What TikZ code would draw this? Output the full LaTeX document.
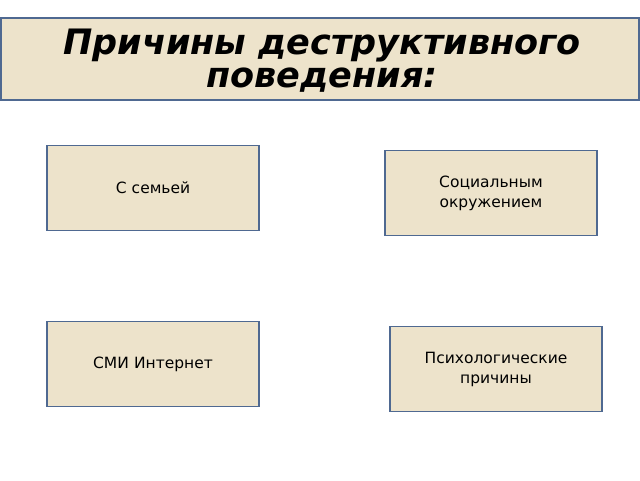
\documentclass[tikz,border=0pt]{standalone}
\usepackage{fontspec}
\setmainfont{DejaVu Sans}
\usepackage{tikz}
\usetikzlibrary{positioning}

\definecolor{parchment}{RGB}{237,227,203}
\definecolor{frameblue}{RGB}{79,105,145}

\tikzset{
    causebox/.style={draw=frameblue, line width=1.6pt, fill=parchment,
        minimum width=212pt, minimum height=85pt, align=center,
        font=\fontsize{15.5}{20}\selectfont, text width=190pt, inner sep=0pt}
}

\begin{document}
\begin{tikzpicture}[x=1pt,y=-1pt]
        \useasboundingbox (0,0) rectangle (640,480);
        % Title
        \node[draw=frameblue, line width=1.6pt, fill=parchment,
            minimum width=638pt, minimum height=82pt] (title) at (320,59) {};
        \node[align=center, font=\fontsize{35}{33}\selectfont\bfseries\itshape]
            (titletext) at (322,61) {Причины деструктивного\\поведения:};
        % Causes
        \node[causebox] (family) at (153,188) {С семьей};
        \node[causebox] (social) at (491,193) {Социальным\\окружением};
        \node[causebox] (media) at (153,364) {СМИ Интернет};
        \node[causebox] (psych) at (496,369) {Психологические\\причины};
    \end{tikzpicture}
\end{document}
